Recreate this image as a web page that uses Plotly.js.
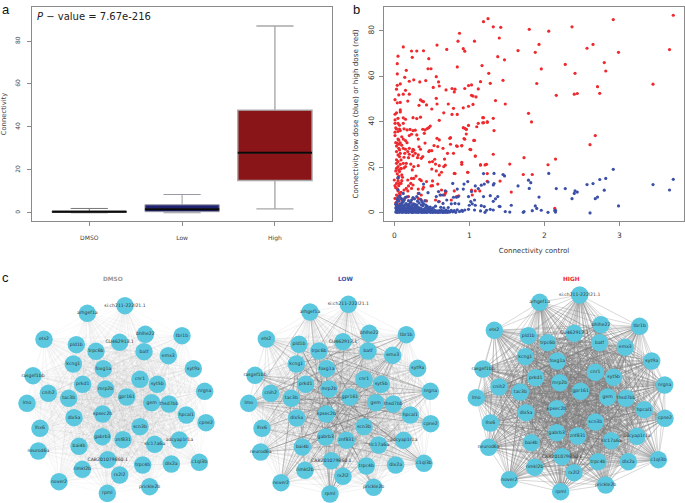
<!DOCTYPE html>
<html><head><meta charset="utf-8">
<script src="https://cdn.plot.ly/plotly-3.0.1.min.js"></script>
<style>html,body{margin:0;padding:0;background:#fff}</style></head>
<body><div id="chart" style="width:685px;height:503px"></div>
<script>
// Panel a
const boxCats=["DMSO","Low","High"];
const boxLow=[0,0,1.8];
const boxQ1=[0.2,0.5,15];
const boxMed=[0.5,1.6,28];
const boxQ3=[0.8,3.7,47.8];
const boxHigh=[2,8.5,87];
const boxColors=["#111111","#1f2270","#8a1519"];
// Panel b
const redX=[1.19,.87,.85,1.07,.57,.12,.23,.30,.39,.70,.92,.94,.05,.24,.46,.04,.45,.49,.84,1.17,.16,.04,.56,.14,.20,.26,.34,.42,.59,.60,.08,.04,.03,.15,.52,.69,.77,.81,.80,.94,.99,1.03,1.12,1.15,.06,.12,.20,.01,.08,.18,.35,.37,.39,.56,.57,.33,.43,.72,.79,.50,.92,.99,1.05,1.03,1.05,1.09,.08,.08,.03,.01,.66,.77,.84,
.01,.05,.12,.15,.25,.35,.60,1.12,1.18,1.18,1.24,.01,.12,.03,.07,.05,.01,.08,.17,.25,.38,.41,.46,.48,.94,.96,.96,.93,1.10,.92,.01,.05,.10,.12,.06,.02,.04,.20,.23,.32,.30,.40,.57,.60,.58,.74,.75,.75,.90,1.06,.53,.65,.83,1.01,.46,.47,.38,.35,.25,.20,.15,.07,.12,.06,.03,.05,.08,.14,.18,.24,.20,.28,.32,.36,.71,.67,.79,1.08,.51,.55,.60,.90,1.15,1.23,
.07,.13,.19,.25,.09,.05,.03,.08,.12,.16,.22,.31,.05,.09,.03,.06,.15,.26,.24,.32,.50,.56,.63,.68,.66,.80,.98,1.24,.60,.23,.26,.18,.00,.05,.03,.07,.01,.06,.09,.10,.36,.43,.51,.49,.51,.58,.69,.63,.62,.19,.25,.22,.16,.23,.13,.18,.32,.38,.32,.36,.05,.07,.03,.08,.05,.09,.01,.04,.06,.10,.14,.19,.25,.32,.36,.43,.55,.60,.67,.68,.76,.83,.80,.86,1.04,1.03,1.08,1.14,
1.25,1.32,1.42,1.40,1.80,2.06,2.37,2.92,3.72,1.65,1.93,1.88,2.57,2.65,2.99,3.67,1.38,1.47,2.28,2.80,2.82,1.96,2.41,1.26,1.28,1.45,1.90,3.45,2.71,2.74,2.16,2.40,2.44,1.35,1.48,1.79,1.32,1.83,1.33,2.68,2.61,1.32,1.73,2.15,1.54,2.05,1.21,1.15,1.72,1.84,1.41,1.24,1.56,2.14,1.19,1.19,1.24,.99,.96,.94,1.07,1.02,1.08,.90,.84,.90,.98,.81,
.02,.04,.06,.03,.05,.07,.10,.02,.04,.09,.11,.03,.06,.08,.13,.02,.05,.07,.15,.10,.17,.21,.13,.04,.28,.26,.33,.41,.30,.44,.50,.54,.47,.34,.39,.29,.22,.03,.06,.11,.02,.08,.12,.05];
const redY=[84.1,79,75.5,75.5,73.8,73,71.2,71.2,71.3,71.9,72.2,71.1,68.9,68.4,67.8,65.6,63.4,63.4,64.2,64.8,62.7,61.1,59.9,59.6,57.9,58.5,57.6,58.2,57.6,55.8,56.7,56.1,54.4,53.9,55.2,54.1,54.7,54.4,53.2,54.7,56,56.3,54.5,57.7,51.9,52.2,52.2,49.8,48.6,49.2,49.7,49.2,48.9,50.4,47.9,47.3,47.5,47.9,46,45.7,46.2,46.9,47.7,51.7,51.4,51,45.3,44.4,44,43.4,44,43.3,43.3,
40.9,41.6,41.8,41.2,41.9,42.1,40.7,39.4,39.6,41.9,39.9,39.4,39.4,36.9,36.9,35.8,35.5,36.2,36.5,36.2,36.8,36.5,37.5,38.2,37.2,36.8,34.7,32.7,37.9,37.5,34,32.5,33.5,32.5,32,30.9,30.6,34,34.6,32.5,34.3,35,32.8,32.1,29.2,32.8,33.1,30.2,29.5,31.9,29.6,28.4,29.5,28,27,27.4,24.8,28,28,28.4,28,27.7,28.4,28.4,27,25.5,26.2,26.2,27,27,25.8,26.2,25.5,24,26.2,23.7,26.2,25,22.6,21.5,20.8,22.3,21.1,21.4,
24.8,24.5,24.3,25.2,23.3,22.6,21.8,21.4,21.8,21.8,21.5,24.3,20.4,19.6,19.6,18.9,20.4,20.4,18.9,20.8,19.3,18.5,17.9,21,20.4,17.4,17.9,17.3,16.7,15.2,15.2,14.5,14.5,14.1,13,13,12,12,13,14.2,14.2,13.8,14.1,11.9,12,12.7,9.4,10.1,7.9,11.9,12.3,13,10.8,10.8,10.1,9.7,10.5,10.5,8.6,7.9,9.7,8.6,7.9,7.9,7.2,9.1,6.4,5.7,6.4,5.7,6.4,7.2,6.4,6.4,5.7,5.3,5.7,5,7.9,8.6,5.7,7.2,9.7,7.5,7.9,10.1,9.7,9.7,
85.4,81.8,81.6,76.9,80.7,79.9,81.8,85,86.9,71.4,74.1,70.6,72.4,74.1,70.6,71.8,68.7,67.3,65.3,66.1,62.4,63.3,61.4,61.4,57,58.3,56.9,56.6,55.5,52.6,51.7,52.2,52.5,49.4,47.9,43.8,41.6,40,36.2,34,30,25.8,24.3,23.7,21.5,21.2,21.1,21.1,16.9,16.9,14,13.9,9.2,2,39.7,41.9,40,38.5,36.8,32.4,31.9,27.8,25,29.6,29.3,21.4,17.9,17.3,
18.5,17.2,16.1,23.4,15.3,18.2,16.7,11.1,10.6,19.4,15.7,29.4,30.2,30.8,19.8,37.4,39.4,38.6,31.8,29.8,30.9,36.7,37,48.4,36.4,27.6,29.1,30.7,41.5,37.1,27.4,23.6,22.4,14.8,11.3,16.2,4.6,4.2,3.6,5.2,4.4,3.8,2.9,2.4];
const blueX=[1.19,1.33,1.45,1.47,1.33,1.32,1.25,1.08,1.12,1.16,1.20,1.65,1.79,1.82,1.80,2.06,2.16,2.28,2.57,2.65,2.74,2.82,2.92,2.80,2.71,2.68,2.41,2.40,2.44,2.37,1.93,1.56,1.19,1.28,1.35,1.38,1.32,1.40,1.41,2.99,3.45,3.67,3.72,1.88,1.90,1.96,1.84,2.05,2.15,2.15,2.14,2.61,1.73,1.72,1.48,1.54,1.32,1.23,1.28,1.21,1.15,1.16,1.20,1.07,1.04,1.08,1.02,1.03,1.07,.99,.94,.91,1.00,.98,.92,.93,.84,.78,.85,.83,.79,.81,.76,.86,.68,.59,.61,.45,.39,.12,.05,.05,.33,.30,.56,.65,.70,.59,.65,.99,
.02,.03,.04,.05,.06,.07,.08,.09,.10,.11,.12,.13,.14,.15,.16,.17,.18,.19,.20,.21,.22,.23,.24,.25,.26,.27,.28,.29,.30,.31,.32,.33,.34,.35,.36,.37,.38,.39,.40,.41,.42,.43,.44,.45,.46,.47,.48,.49,.50,.51,.52,.53,.54,.55,.56,.57,.58,.59,.60,.61,.62,.63,.64,.65,.66,.67,.68,.69,.70,.71,.72,.74,.75,.76,.78,.80,.82,.84,.87,.90,
.02,.03,.04,.05,.06,.07,.08,.09,.10,.11,.12,.13,.14,.15,.16,.17,.18,.19,.20,.21,.22,.23,.24,.25,.26,.27,.28,.29,.30,.31,.32,.34,.36,.38,.40,.42,.44,.46,.48,.50,
.02,.03,.04,.06,.08,.10,.12,.14,.16,.18,.20,.22,.24,.26,.28,.30,.33,.36,.39,.42,.04,.07,.11,.15,.19,.23,.27,.31,.35,.44,.48,.52,.55,.62,.66,.72,.03,.05,.09,.13,.17,.25,.37,.41];
const blueY=[17.3,17.4,16.9,16.3,12.9,12.3,13.6,11.9,10.7,12.2,12.7,11.9,14.4,13.3,10.8,17.4,10.7,10.7,12.5,12.9,14.7,15.2,19.2,10,7,6.3,9.7,8.6,9.2,6.3,7,3.4,7.2,7.6,6.2,7.2,5.1,2.9,2.8,3.1,12.5,10.1,14.8,3.1,2,1.2,1,.3,1.2,.4,1,0,.6,.3,.6,.4,1.3,1.2,1.6,.3,.9,3.2,2.8,5.7,4,3.4,5,9.4,1.3,1.6,1.3,.7,3.4,13.8,10.5,12.7,10.5,13,7.2,6.9,6.9,4.2,4,4,9.7,9.4,7.9,8.9,12.7,8.6,15.5,5.7,8.6,7.2,7.2,7.9,5.7,5,4.2,7.2,
.4,1.2,.2,.8,1.5,.3,1,.5,1.3,.2,.7,1.1,.4,.9,.2,1.4,.6,.3,1,.5,1.2,.3,.8,.2,1.1,.5,.9,.3,.6,1.2,.2,.7,1,.4,.8,.2,1.3,.5,.3,.9,.6,.2,1,.4,.7,1.2,.3,.5,.9,.2,.8,.4,1.1,.3,.6,.9,.2,.5,1,.3,.7,1.2,.4,.2,.8,.5,.3,1.3,.6,.2,.9,.4,.7,1.2,.5,1,.3,1.4,.6,1.1,
2.2,1.8,2.5,1.6,3,2,2.7,1.7,3.3,2.2,1.9,2.9,2.3,1.6,3.5,2.1,2.6,1.8,3.1,2.4,1.7,2.8,2,3.6,1.6,2.5,2.1,3,1.8,2.7,1.6,2.2,1.9,3.2,1.7,2.4,1.6,2,1.8,1.6,
3.8,4.6,3.4,5.2,3.9,4.3,4.9,3.6,4.1,3.5,3.9,4.7,3.4,4,3.7,3.5,4.4,3.6,4.1,3.5,6.3,7.4,6,6.9,5.4,5.7,6.2,5.2,6,2.9,2.6,2.3,3,2.5,2.2,2.4,2.8,10.2,6.4,5.6,7.1,6.8,5,5.4];
// Panel c
const geneNames=["arhgef1a","si:ch211-222l21.1","ets2","pld1b","trpc6b","CU462913.1","bhlhe22","batf","tbr1b","emx3","syt9a","kcng1","foxg1a","rasgef1bb","cnih2","prkd1","mrp2b","tac3b","gpr161","cnr1","syt5b","gem","thsd7bb","hpcal1","nrgna","cpne2","lmo","dlx5a","kpsec2b","scn3b","lhx6","gabrb3","znf831","slc17a6a","adcyap1r1a","bai4b","neurod6a","CABZ01079860.1","trpc4b","dlx2a","c1ql3b","rimkl2b","rx2l2","nover2","prickle2b","rpml"];
const dmsoX=[262,375,132,229,288,359,436,432,546,505,580,220,310,99,145,248,317,206,380,420,472,455,507,559,614,618,81,222,308,420,120,307,369,464,538,237,115,323,428,514,598,247,359,177,449,322];
const dmsoY=[145,122,223,239,259,232,208,260,212,272,311,297,311,332,385,358,372,400,396,343,358,413,417,450,379,473,415,458,447,485,490,515,524,538,525,544,558,584,600,597,592,613,630,650,665,685];
const lowX=[255,370,124,222,282,354,433,429,544,503,578,214,305,90,137,242,312,199,375,417,469,452,505,556,616,617,71,215,304,417,111,302,364,461,536,232,107,319,424,512,597,240,354,168,446,315];
const lowY=[141,118,222,238,258,230,205,258,209,271,310,297,311,331,385,358,372,400,396,343,358,413,417,450,379,476,415,459,447,485,490,516,526,540,526,546,561,587,603,600,595,616,634,653,667,687];
const highX=[269,389,133,235,293,373,453,449,569,526,605,226,322,99,147,257,329,211,392,436,491,473,528,583,644,645,79,228,320,436,121,320,383,484,561,244,116,336,444,535,625,254,372,178,467,332];
const highY=[112,90,196,212,233,205,179,233,184,247,288,275,288,312,366,338,353,381,379,322,337,396,400,434,360,460,398,443,431,471,474,503,513,527,514,533,547,575,590,590,584,607,623,644,660,680];
const lowStrongEdges=[["trpc6b","nrgna"],["arhgef1a","lmo"],["arhgef1a","rpml"],["arhgef1a","emx3"],["si:ch211-222l21.1","rpml"],["si:ch211-222l21.1","lhx6"],["bhlhe22","rpml"],["bhlhe22","lmo"],["tbr1b","rpml"],["tbr1b","lmo"],["tbr1b","kcng1"],["emx3","neurod6a"],["emx3","rimkl2b"],["emx3","trpc6b"],["batf","nover2"],["batf","lhx6"],["ets2","c1ql3b"],["ets2","nrgna"],["pld1b","nover2"],["pld1b","prickle2b"],["trpc6b","rpml"],["kcng1","c1ql3b"],["kcng1","rimkl2b"],["foxg1a","nover2"],["foxg1a","cpne2"],["foxg1a","rpml"],["rasgef1bb","nrgna"],["rasgef1bb","adcyap1r1a"],["lmo","nrgna"],["lmo","cpne2"],["lmo","adcyap1r1a"],["cnih2","hpcal1"],["prkd1","c1ql3b"],["mrp2b","nover2"],["gpr161","rimkl2b"],["cnr1","nover2"],["syt5b","lhx6"],["gem","lmo"],["thsd7bb","neurod6a"],["nrgna","bai4b"],["nrgna","neurod6a"],["cpne2","rasgef1bb"],["neurod6a","adcyap1r1a"],["lhx6","c1ql3b"],["dlx5a","c1ql3b"],["gabrb3","tbr1b"],["nover2","tbr1b"],["rpml","emx3"],["rpml","nrgna"],["prickle2b","pld1b"],["c1ql3b","rasgef1bb"],["kpsec2b","prickle2b"],["scn3b","arhgef1a"],["adcyap1r1a","prkd1"]];

function edgeLines(xs,ys,pairs){const ex=[],ey=[];for(const [a,b] of pairs){ex.push(xs[a],xs[b],null);ey.push(ys[a],ys[b],null);}return {ex,ey};}
const allPairs=[];for(let i=0;i<geneNames.length;i++)for(let j=i+1;j<geneNames.length;j++)allPairs.push([i,j]);
const lowPairs=lowStrongEdges.map(p=>[geneNames.indexOf(p[0]),geneNames.indexOf(p[1])]);

const data=[];
for(let i=0;i<3;i++){
 data.push({type:"box",x:[boxCats[i]],q1:[boxQ1[i]],median:[boxMed[i]],q3:[boxQ3[i]],lowerfence:[boxLow[i]],upperfence:[boxHigh[i]],width:0.8,whiskerwidth:0.5,fillcolor:boxColors[i],line:{color:i==2?"#a8a8a8":(i==1?"#9a9aa4":"#777777"),width:i==2?1.4:1},xaxis:"x",yaxis:"y",showlegend:false,boxpoints:false});
 data.push({type:"box",x:[boxCats[i]],q1:[boxMed[i]],median:[boxMed[i]],q3:[boxMed[i]],lowerfence:[boxMed[i]],upperfence:[boxMed[i]],width:0.8,whiskerwidth:0,fillcolor:"#000",line:{color:"#0a0a0a",width:2},xaxis:"x",yaxis:"y",showlegend:false,boxpoints:false});
}
data.push({type:"scatter",mode:"markers",x:redX,y:redY,marker:{color:"#ee2a2e",size:3.2},xaxis:"x2",yaxis:"y2",showlegend:false});
data.push({type:"scatter",mode:"markers",x:blueX,y:blueY,marker:{color:"#3b50a6",size:3.2},xaxis:"x2",yaxis:"y2",showlegend:false});
const nets=[
 {xs:dmsoX,ys:dmsoY,ax:"x3",ay:"y3",base:"rgba(130,130,130,0.10)",bw:0.5,strong:null},
 {xs:lowX,ys:lowY,ax:"x4",ay:"y4",base:"rgba(120,120,120,0.16)",bw:0.55,strong:lowPairs},
 {xs:highX,ys:highY,ax:"x5",ay:"y5",base:"rgba(120,120,120,0.42)",bw:0.7,strong:null}
];
for(const n of nets){
 const b=edgeLines(n.xs,n.ys,allPairs);
 data.push({type:"scatter",mode:"lines",x:b.ex,y:b.ey,line:{color:n.base,width:n.bw},xaxis:n.ax,yaxis:n.ay,showlegend:false,hoverinfo:"skip"});
 if(n.strong){const s=edgeLines(n.xs,n.ys,n.strong);
  data.push({type:"scatter",mode:"lines",x:s.ex,y:s.ey,line:{color:"rgba(100,100,100,0.4)",width:0.7},xaxis:n.ax,yaxis:n.ay,showlegend:false,hoverinfo:"skip"});}
 data.push({type:"scatter",mode:"markers+text",x:n.xs,y:n.ys,text:geneNames,textposition:"middle center",textfont:{family:"DejaVu Sans",size:4.6,color:"#333"},marker:{color:"#5bc8e0",size:17.5},xaxis:n.ax,yaxis:n.ay,showlegend:false,cliponaxis:false});
}
const W=685,H=503;
const frame={showline:true,mirror:true,linecolor:"#8a8a8a",linewidth:1,zeroline:false,showgrid:false,ticks:"outside",ticklen:4,tickcolor:"#8a8a8a",tickwidth:1};
const hidden={visible:false,showgrid:false,zeroline:false};
function dom(a,b,t){return [a/t,b/t];}
const layout={width:W,height:H,margin:{l:0,r:0,t:0,b:0},paper_bgcolor:"#fff",plot_bgcolor:"#fff",boxmode:"overlay",showlegend:false,font:{family:"DejaVu Sans",color:"#333"},
 xaxis:{...frame,domain:dom(32,332,W),range:[-0.617,2.615],type:"category",categoryorder:"array",categoryarray:boxCats,tickfont:{size:6,color:"#444"},ticklabelstandoff:7,anchor:"y"},
 yaxis:{...frame,domain:[1-220.7/H,1-7.3/H],range:[-3.7,95.7],tickvals:[0,20,40,60,80],tickangle:-90,tickfont:{size:6,color:"#444"},ticklabelstandoff:5,anchor:"x",title:{text:"Connectivity",font:{size:6.8,color:"#444"},standoff:7}},
 xaxis2:{...frame,domain:dom(384,684,W),range:[-0.137,3.863],tickvals:[0,1,2,3],tickfont:{size:7.5,color:"#333"},ticklabelstandoff:3,anchor:"y2",title:{text:"Connectivity control",font:{size:7,color:"#333"},standoff:9}},
 yaxis2:{...frame,domain:[1-220.7/H,1-7.3/H],range:[-3.4,90.4],tickvals:[0,20,40,60,80],tickangle:-90,tickfont:{size:7.5,color:"#333"},ticklabelstandoff:2,anchor:"x2",title:{text:"Connectivity low dose (blue) or high dose (red)",font:{size:7.2,color:"#333"},standoff:7}},
 xaxis3:{...hidden,domain:dom(0,225,W),range:[0,675],anchor:"y3"},
 yaxis3:{...hidden,domain:[0,238/H],range:[714,0],anchor:"x3"},
 xaxis4:{...hidden,domain:dom(225,450,W),range:[0,675],anchor:"y4"},
 yaxis4:{...hidden,domain:[0,238/H],range:[714,0],anchor:"x4"},
 xaxis5:{...hidden,domain:dom(450,685,W),range:[0,705],anchor:"y5"},
 yaxis5:{...hidden,domain:[0,238/H],range:[714,0],anchor:"x5"},
 annotations:[
  {text:"<i>P</i> − value = 7.67e-216",xref:"paper",yref:"paper",x:35/W,y:1-17/H,xanchor:"left",yanchor:"middle",showarrow:false,font:{size:10,color:"#222"}},
  {text:"a",xref:"paper",yref:"paper",x:0,y:1-9/H,xanchor:"left",yanchor:"middle",showarrow:false,font:{family:"Liberation Sans",size:13,color:"#111"}},
  {text:"b",xref:"paper",yref:"paper",x:351/W,y:1-9/H,xanchor:"left",yanchor:"middle",showarrow:false,font:{family:"Liberation Sans",size:13,color:"#111"}},
  {text:"c",xref:"paper",yref:"paper",x:0,y:1-277/H,xanchor:"left",yanchor:"middle",showarrow:false,font:{family:"Liberation Sans",size:13,color:"#111"}},
  {text:"<b>DMSO</b>",xref:"paper",yref:"paper",x:113/W,y:1-279/H,xanchor:"center",yanchor:"middle",showarrow:false,font:{size:5.8,color:"#999"}},
  {text:"<b>LOW</b>",xref:"paper",yref:"paper",x:345/W,y:1-279/H,xanchor:"center",yanchor:"middle",showarrow:false,font:{size:5.8,color:"#3b50a6"}},
  {text:"<b>HIGH</b>",xref:"paper",yref:"paper",x:571/W,y:1-279/H,xanchor:"center",yanchor:"middle",showarrow:false,font:{size:5.8,color:"#ee2a2e"}}
 ]};
Plotly.newPlot("chart",data,layout,{displayModeBar:false,staticPlot:true});
</script></body></html>
